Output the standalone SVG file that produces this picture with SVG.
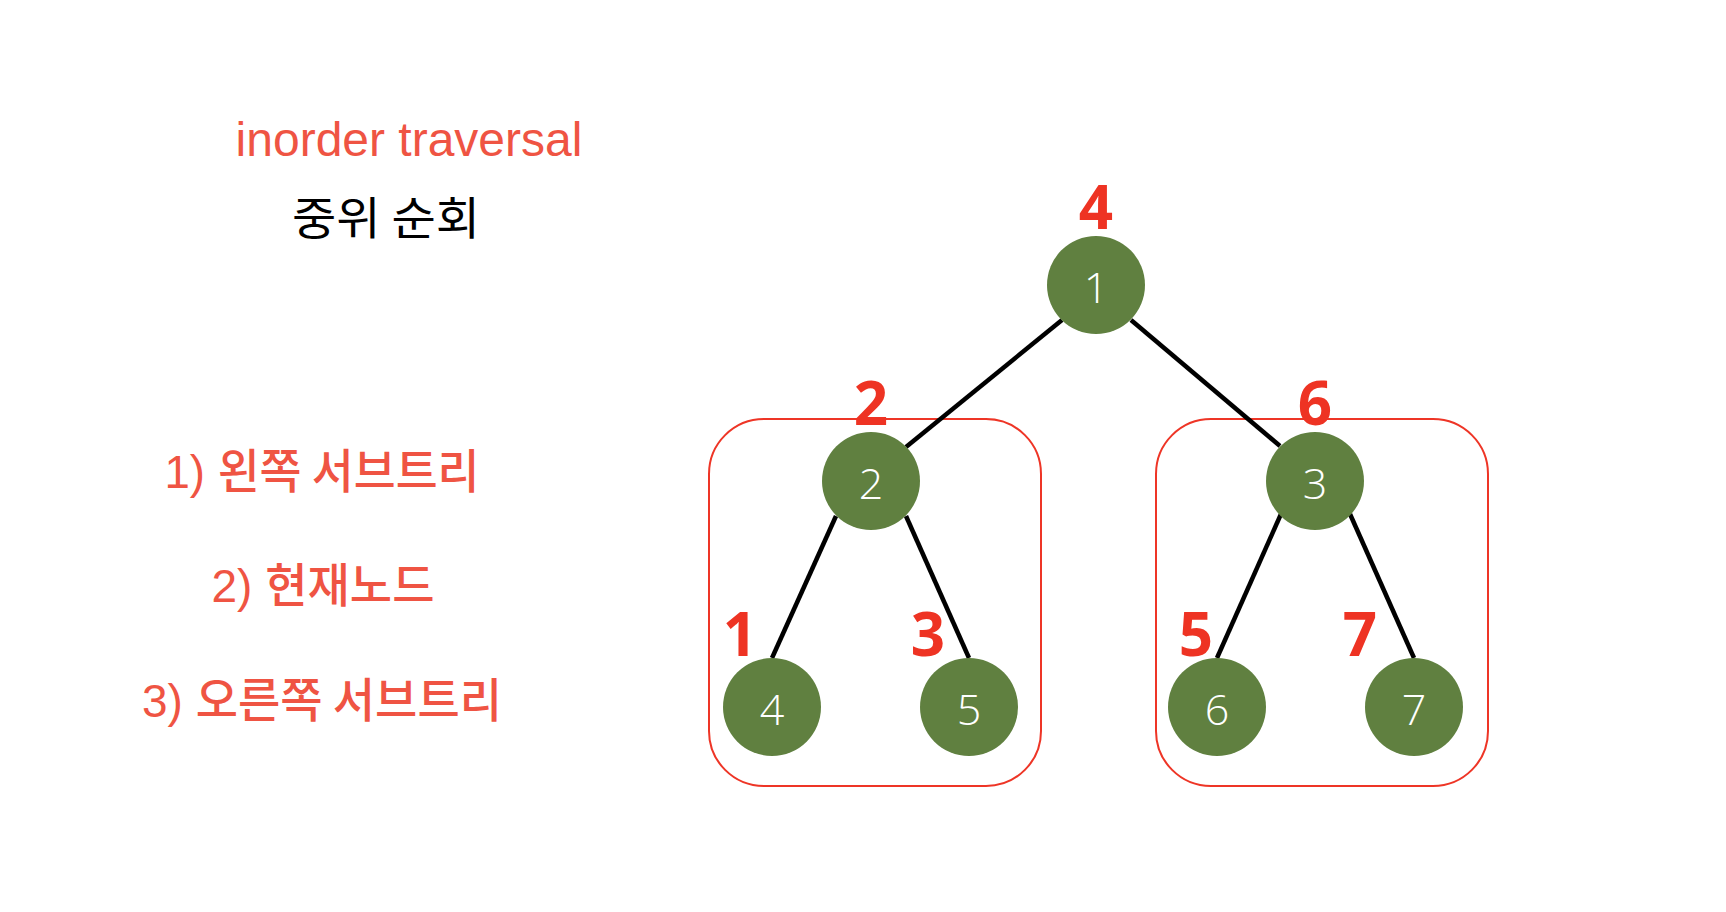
<svg xmlns="http://www.w3.org/2000/svg" width="1726" height="912" viewBox="0 0 1726 912">
<style>
.bg{fill:#ffffff}
.node circle{fill:#608040}
.node text{fill:#ffffff;font-family:"Open Sans","Noto Sans",sans-serif;font-weight:300;font-size:43px;text-anchor:middle}
.edge{stroke:#000000;stroke-width:4.5;stroke-linecap:butt;fill:none}
.box{fill:none;stroke:#ee3526;stroke-width:2}
.order{fill:#ee3323;font-family:"Open Sans","Noto Sans",sans-serif;font-weight:700;font-size:60px;text-anchor:middle}
.title{fill:#ef5443;font-family:"Liberation Sans",Arial,sans-serif;font-size:48px;text-anchor:middle}
.ko{fill:#000000;font-family:"Noto Sans CJK KR","Liberation Sans",sans-serif;font-size:45px;text-anchor:middle}
.step{fill:#ef5443;font-family:"Liberation Sans","Noto Sans CJK KR",sans-serif;font-size:47px;text-anchor:middle}
.step tspan.k{font-family:"Noto Sans CJK KR",sans-serif;font-weight:500}
</style>
<rect class="bg" x="0" y="0" width="1726" height="912"/>
<g id="legend">
<text class="title" x="409" y="156">inorder traversal</text>
<text class="ko" x="386" y="235" textLength="188" lengthAdjust="spacingAndGlyphs">중위 순회</text>
<text class="step" x="322" y="488" textLength="315" lengthAdjust="spacingAndGlyphs">1) <tspan class="k">왼쪽 서브트리</tspan></text>
<text class="step" x="323" y="602" textLength="223" lengthAdjust="spacingAndGlyphs">2) <tspan class="k">현재노드</tspan></text>
<text class="step" x="322" y="717" textLength="360" lengthAdjust="spacingAndGlyphs">3) <tspan class="k">오른쪽 서브트리</tspan></text>
</g>
<g id="subtrees">
<rect id="left-subtree" class="box" x="709" y="419" width="332" height="367" rx="55" ry="55"/>
<rect id="right-subtree" class="box" x="1156" y="419" width="332" height="367" rx="55" ry="55"/>
</g>
<g id="connectors">
<line class="edge" x1="1062" y1="320" x2="906" y2="447"/>
<line class="edge" x1="1131" y1="320" x2="1280" y2="446"/>
<line class="edge" x1="836" y1="516" x2="772" y2="658"/>
<line class="edge" x1="906" y1="516" x2="969" y2="658"/>
<line class="edge" x1="1281" y1="514" x2="1217" y2="658"/>
<line class="edge" x1="1350" y1="514" x2="1414" y2="658"/>
</g>
<g id="node1" class="node"><circle cx="1096" cy="285" r="49"/><text x="1096" y="303">1</text></g>
<g id="node2" class="node"><circle cx="871" cy="481" r="49"/><text x="871" y="499">2</text></g>
<g id="node3" class="node"><circle cx="1315" cy="481" r="49"/><text x="1315" y="499">3</text></g>
<g id="node4" class="node"><circle cx="772" cy="707" r="49"/><text x="772" y="725">4</text></g>
<g id="node5" class="node"><circle cx="969" cy="707" r="49"/><text x="969" y="725">5</text></g>
<g id="node6" class="node"><circle cx="1217" cy="707" r="49"/><text x="1217" y="725">6</text></g>
<g id="node7" class="node"><circle cx="1414" cy="707" r="49"/><text x="1414" y="725">7</text></g>
<g id="visit-order">
<text class="order" x="1096" y="229">4</text>
<text class="order" x="871" y="425">2</text>
<text class="order" x="1315" y="425">6</text>
<text class="order" x="740" y="656">1</text>
<text class="order" x="928" y="656">3</text>
<text class="order" x="1196" y="656">5</text>
<text class="order" x="1360" y="656">7</text>
</g>
</svg>
